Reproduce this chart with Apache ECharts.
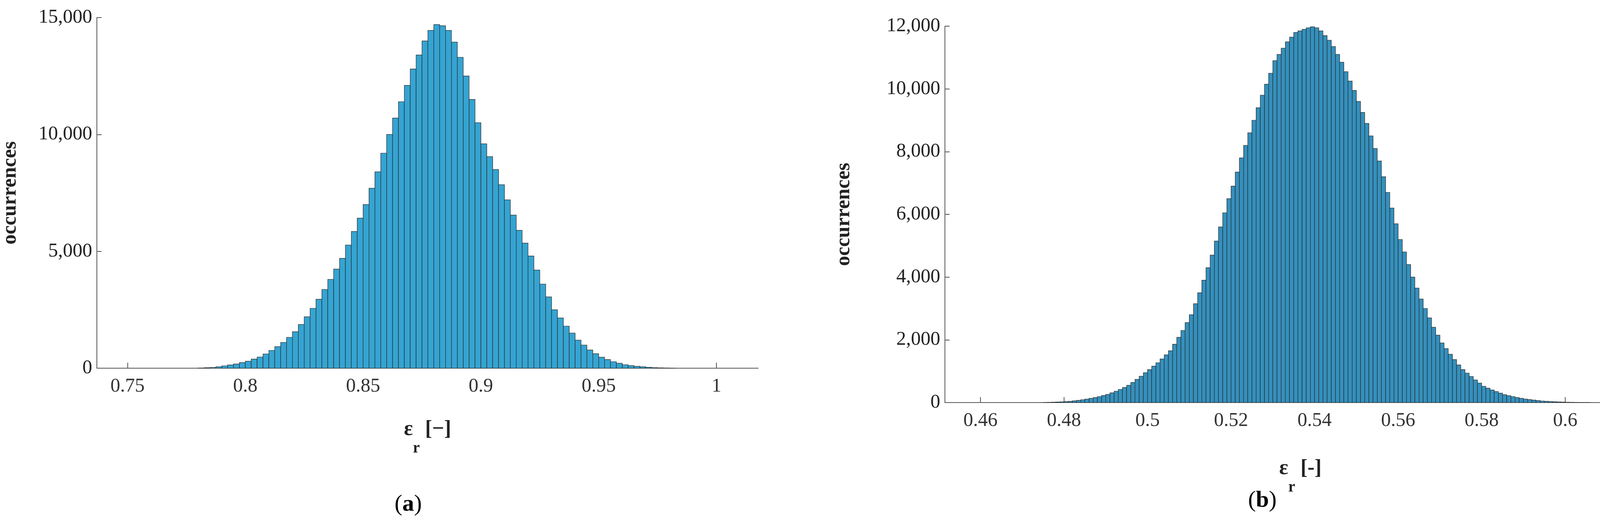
<!DOCTYPE html>
<html>
<head>
<meta charset="utf-8">
<script src="https://cdn.jsdelivr.net/npm/echarts@6/dist/echarts.min.js"></script>
<style>html,body{margin:0;padding:0;background:#fff}#chart{width:4278px;height:1360px}</style>
</head>
<body>
<div id="chart"></div>
<script>
// (a) histogram: bin start 0.78, bin width 0.0025
var binStartA = 0.78;
var binWidthA = 0.0025;
var countsA = [
  10, 20, 30, 60, 100, 140, 180, 240, 300, 390,
  480, 610, 760, 920, 1100, 1320, 1560, 1870, 2200, 2560,
  2950, 3370, 3800, 4240, 4700, 5270, 5850, 6420, 7000, 7700,
  8400, 9200, 10000, 10700, 11400, 12100, 12800, 13400, 14000, 14450,
  14700, 14650, 14450, 13950, 13300, 12500, 11500, 10500, 9600, 9050,
  8500, 7850, 7200, 6550, 5900, 5350, 4800, 4200, 3600, 3050,
  2500, 2150, 1800, 1500, 1200, 990, 780, 620, 470, 370,
  280, 210, 150, 110, 80, 60, 40, 25, 15, 10, 5
];
var xTicksA = [0.75, 0.8, 0.85, 0.9, 0.95, 1];

// (b) histogram: bin start 0.475, bin width 0.001
var binStartB = 0.475;
var binWidthB = 0.001;
var countsB = [
  5, 8, 12, 17, 23, 30,
  40, 55, 70, 90, 110,
  135, 160, 190, 225, 260,
  310, 360, 420, 480, 550,
  640, 740, 840, 950, 1050,
  1160, 1270, 1390, 1520, 1650,
  1860, 2080, 2300, 2550, 2800,
  3150, 3500, 3900, 4300, 4700,
  5150, 5600, 6050, 6500, 6900,
  7350, 7800, 8200, 8600, 9000,
  9400, 9800, 10150, 10500, 10900,
  11100, 11300, 11500, 11650, 11800,
  11850, 11900, 11950, 11980, 11950,
  11850, 11700, 11550, 11350, 11100,
  10850, 10550, 10250, 9950, 9600,
  9250, 8900, 8500, 8100, 7700,
  7200, 6700, 6200, 5700, 5200,
  4800, 4400, 4000, 3650, 3300,
  3000, 2700, 2400, 2150, 1900,
  1720, 1540, 1370, 1200, 1050,
  940, 830, 720, 620, 520,
  460, 400, 350, 300, 250,
  220, 190, 160, 135, 110,
  95, 80, 65, 50, 40,
  33, 26, 20, 15, 10,
  8, 6, 4, 3, 2
];
var xTicksB = [0.46, 0.48, 0.5, 0.52, 0.54, 0.56, 0.58, 0.6, 0.62];

function toBins(start, width, counts) {
  return counts.map(function (c, i) {
    var x0 = +(start + i * width).toFixed(6);
    return [x0, +(x0 + width).toFixed(6), c];
  });
}

function histRender(fill) {
  return function (params, api) {
    var p0 = api.coord([api.value(0), api.value(2)]);
    var p1 = api.coord([api.value(1), 0]);
    return {
      type: 'rect',
      shape: { x: p0[0], y: p0[1], width: p1[0] - p0[0], height: p1[1] - p0[1] },
      style: { fill: fill, stroke: '#2a2a2a', lineWidth: 1.2 }
    };
  };
}

var font = 'Liberation Serif';
var nameRich = {
  e: { fontFamily: font, fontSize: 54, fontWeight: 'bold', color: '#222', lineHeight: 96, verticalAlign: 'top' },
  s: { fontFamily: font, fontSize: 40, fontWeight: 'bold', color: '#222', lineHeight: 96, verticalAlign: 'bottom' }
};

function xAxis(idx, min, max, ticks, gap, dash) {
  return {
    type: 'value', gridIndex: idx, min: min, max: max,
    name: '{e|ε}{s|r}{e| [' + dash + ']}', nameLocation: 'middle', nameGap: gap,
    nameTextStyle: { rich: nameRich },
    axisLine: { lineStyle: { color: '#555', width: 2 } },
    axisTick: { show: true, inside: true, length: 14, customValues: ticks, lineStyle: { color: '#555', width: 2 } },
    axisLabel: { customValues: ticks, showMaxLabel: true, showMinLabel: true, hideOverlap: false,
      fontFamily: font, fontSize: 50, color: '#333', margin: 22 },
    splitLine: { show: false }
  };
}

function yAxis(idx, max, interval, gap) {
  return {
    type: 'value', gridIndex: idx, min: 0, max: max, interval: interval,
    name: 'occurrences', nameLocation: 'middle', nameGap: gap,
    nameTextStyle: { fontFamily: font, fontSize: 52, fontWeight: 'bold', color: '#222' },
    axisLine: { show: true, lineStyle: { color: '#555', width: 2 } },
    axisTick: { show: true, inside: true, length: 12, lineStyle: { color: '#555', width: 2 } },
    axisLabel: {
      fontFamily: font, fontSize: 50, color: '#222', margin: 12,
      formatter: function (v) { return v.toLocaleString('en-US'); }
    },
    splitLine: { show: false }
  };
}

var chart = echarts.init(document.getElementById('chart'));
chart.setOption({
  animation: false,
  backgroundColor: '#fff',
  grid: [
    { left: 247, right: 2337, top: 45, bottom: 417 },
    { left: 2419, right: 39, top: 67, bottom: 329 }
  ],
  xAxis: [
    xAxis(0, 0.737, 1.0177, xTicksA, 130, '\u2212'),
    xAxis(1, 0.4515, 0.6217, xTicksB, 142, '-')
  ],
  yAxis: [
    yAxis(0, 15000, 5000, 195),
    yAxis(1, 12000, 2000, 232)
  ],
  series: [
    {
      type: 'custom', xAxisIndex: 0, yAxisIndex: 0,
      renderItem: histRender('#35a4d2'),
      encode: { x: [0, 1], y: 2 },
      data: toBins(binStartA, binWidthA, countsA)
    },
    {
      type: 'custom', xAxisIndex: 1, yAxisIndex: 1,
      renderItem: histRender('#3490bd'),
      encode: { x: [0, 1], y: 2 },
      data: toBins(binStartB, binWidthB, countsB)
    }
  ],
  graphic: [
    {
      type: 'text', left: 1010, top: 1262,
      style: { text: '({a|a})', fontFamily: font, fontSize: 60, fill: '#000', rich: { a: { fontFamily: font, fontSize: 60, fontWeight: 'bold' } } }
    },
    {
      type: 'text', left: 3195, top: 1252,
      style: { text: '({a|b})', fontFamily: font, fontSize: 60, fill: '#000', rich: { a: { fontFamily: font, fontSize: 60, fontWeight: 'bold' } } }
    }
  ]
});
</script>
</body>
</html>
